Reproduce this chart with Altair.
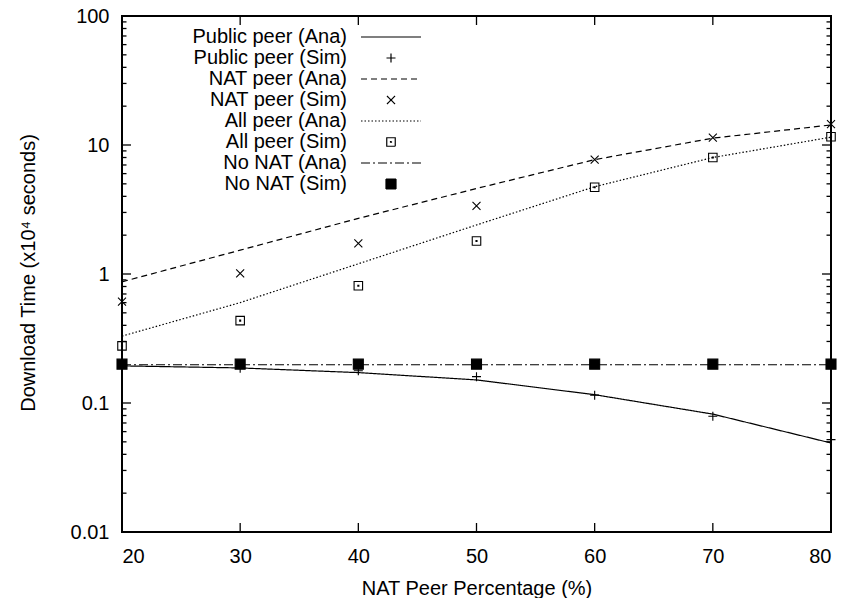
import altair as alt
import pandas as pd

# ---- data ----
nat_pct = [20, 30, 40, 50, 60, 70, 80]

public_ana = [0.194, 0.187, 0.172, 0.151, 0.116, 0.082, 0.049]
public_sim = [0.195, 0.186, 0.178, 0.160, 0.115, 0.079, 0.052]
nat_ana = [0.87, 1.53, 2.7, 4.6, 7.7, 11.3, 14.3]
nat_sim = [0.61, 1.01, 1.73, 3.38, 7.7, 11.4, 14.5]
all_ana = [0.33, 0.60, 1.2, 2.4, 4.75, 8.0, 11.5]
all_sim = [0.277, 0.435, 0.81, 1.8, 4.7, 8.0, 11.6]
nonat_ana = [0.198, 0.198, 0.198, 0.198, 0.198, 0.198, 0.198]
nonat_sim = [0.2, 0.2, 0.2, 0.2, 0.2, 0.2, 0.2]

series_names = ["Public peer (Ana)", "Public peer (Sim)", "NAT peer (Ana)", "NAT peer (Sim)",
                "All peer (Ana)", "All peer (Sim)", "No NAT (Ana)", "No NAT (Sim)"]
series_values = [public_ana, public_sim, nat_ana, nat_sim, all_ana, all_sim, nonat_ana, nonat_sim]

# tick positions
x_ticks = [20, 30, 40, 50, 60, 70, 80]
x_inner_ticks = [30, 40, 50, 60, 70]
y_labels = [0.01, 0.1, 1, 10, 100]
y_minor_ticks = [round(k * 10 ** e, 6) for e in range(-2, 2) for k in range(2, 10)]

rows = []
for name, vals in zip(series_names, series_values):
    for xv, yv in zip(nat_pct, vals):
        rows.append({"pct": xv, "time": yv, "series": name,
                     "kind": "Ana" if "(Ana)" in name else "Sim"})
df = pd.DataFrame(rows)
ana_df = df[df.kind == "Ana"]
sim_df = df[df.kind == "Sim"]

xt_df = pd.DataFrame({"pct": x_inner_ticks})
ymaj_df = pd.DataFrame({"time": y_labels})
ymin_df = pd.DataFrame({"time": y_minor_ticks})

W, H = 709, 516
FONT = "Liberation Sans"
FS = 20
MAJ, MIN = 9, 4.5
TW = 1.3

dash_range = [[1, 0], [1, 0], [6, 4], [1, 0], [1.5, 2], [1, 0], [9, 3, 2, 3], [1, 0]]
LINE = "M-6,0H6"
PLUS = "M-0.9,0H0.9M0,-0.9V0.9"
XMK = "M-0.8,-0.8L0.8,0.8M-0.8,0.8L0.8,-0.8"
BOXDOT = "M-0.85,-0.85H0.85V0.85H-0.85ZM-0.1,-0.1H0.1V0.1H-0.1Z"
FSQ = "M-1,-1H1V1H-1Z"
shape_range = [LINE, PLUS, LINE, XMK, LINE, BOXDOT, LINE, FSQ]
fill_range = ["transparent"] * 7 + ["black"]
stroke_range = ["black"] * 8

xscale = alt.Scale(domain=[20, 80], nice=False, zero=False)
yscale = alt.Scale(type="log", domain=[0.01, 100], nice=False)

leg = alt.Legend(title=None)
stroke_enc = alt.Stroke("series:N", scale=alt.Scale(domain=series_names, range=stroke_range),
                        legend=leg)

x_axis = alt.Axis(orient="bottom", values=x_ticks, ticks=False, tickSize=0, domain=False,
                  grid=False, labelPadding=30, labelBaseline="alphabetic",
                  title="NAT Peer Percentage (%)", titleY=62, titleBaseline="alphabetic")
y_axis = alt.Axis(orient="left", values=y_labels, format="~g", ticks=False, tickSize=0,
                  domain=False, grid=False, labelPadding=13, labelBaseline="middle",
                  title="Download Time (x10⁴ seconds)", titleX=-88, titleY=256.5,
                  titleAngle=270, titleBaseline="alphabetic", titleAlign="center")

# analytic lines
lines = alt.Chart(ana_df).mark_line(strokeWidth=1.2).encode(
    x=alt.X("pct:Q", scale=xscale, axis=x_axis),
    y=alt.Y("time:Q", scale=yscale, axis=y_axis),
    stroke=stroke_enc,
    strokeDash=alt.StrokeDash("series:N", scale=alt.Scale(domain=series_names, range=dash_range),
                              legend=leg),
)

# simulation points
points = alt.Chart(sim_df).mark_point(size=100, strokeWidth=1.1, opacity=1).encode(
    x=alt.X("pct:Q", scale=xscale, axis=x_axis),
    y=alt.Y("time:Q", scale=yscale, axis=y_axis),
    stroke=stroke_enc,
    shape=alt.Shape("series:N", scale=alt.Scale(domain=series_names, range=shape_range), legend=leg),
    fill=alt.Fill("series:N", scale=alt.Scale(domain=series_names, range=fill_range), legend=leg),
)

# inward tick marks on all four borders (positions along the axis come from the scales)
def xtick(yc):
    return alt.Chart(xt_df).mark_tick(orient="vertical", size=MAJ, thickness=TW,
                                      color="black", opacity=1).encode(
        x=alt.X("pct:Q", scale=xscale, axis=x_axis), y=alt.value(yc))

def ytick(data, xc, length):
    return alt.Chart(data).mark_tick(orient="horizontal", size=length, thickness=TW,
                                     color="black", opacity=1).encode(
        y=alt.Y("time:Q", scale=yscale, axis=y_axis), x=alt.value(xc))

ticks = [
    xtick(H - MAJ / 2), xtick(MAJ / 2),
    ytick(ymaj_df, MAJ / 2, MAJ), ytick(ymaj_df, W - MAJ / 2, MAJ),
    ytick(ymin_df, MIN / 2, MIN), ytick(ymin_df, W - MIN / 2, MIN),
]

chart = alt.layer(lines, points, *ticks).properties(
    width=W, height=H,
    autosize=alt.AutoSizeParams(type="none"),
    padding={"left": 122, "top": 16, "right": 15, "bottom": 66},
    background="white",
).configure(
    font=FONT
).configure_view(
    stroke="black", strokeWidth=2
).configure_axis(
    labelFont=FONT, labelFontSize=FS, labelColor="black",
    titleFont=FONT, titleFontSize=FS, titleColor="black", titleFontWeight="normal",
).configure_legend(
    orient="none", legendX=259, legendY=11,
    labelFont=FONT, labelFontSize=FS, labelColor="black", labelLimit=400,
    labelAlign="right", labelOffset={"expr": "-54"}, symbolSize=100, symbolStrokeWidth=1.2,
    rowPadding=1, padding=0,
)

chart.save("out.html", embed_options={"renderer": "svg", "actions": False})
